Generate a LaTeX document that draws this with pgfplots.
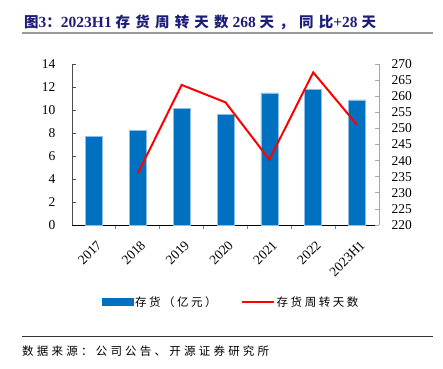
\documentclass[border=0pt]{standalone}
\usepackage{pgfplots}
\pgfplotsset{compat=1.18}
\usepackage{fontspec}
\setmainfont{Liberation Serif}
\newfontfamily\cjk{Noto Sans CJK SC}
\newfontfamily\cjkt[LetterSpace=36]{Noto Sans CJK SC}
\newfontfamily\cjksp[LetterSpace=22]{Noto Sans CJK SC}
\newfontfamily\cjkf[LetterSpace=28]{Noto Sans CJK SC}
\newcommand\tc[1]{{\fontsize{14.5}{15}\cjkt\bfseries #1}}
\definecolor{barblue}{HTML}{0070C0}
\definecolor{titleblue}{RGB}{30,30,120}
\begin{document}
\begin{tikzpicture}[x=1pt,y=1pt]
\path[use as bounding box] (0,0) rectangle (443,368);
% title
\node[anchor=west, inner sep=0pt, text=titleblue, font=\bfseries\fontsize{15.5}{16}\selectfont] at (24,345.5)
 {\tc{图}3\tc{：}2023H1 \tc{存货周转天数} 268 \tc{天，同比}+28 \tc{天}};
\draw[gray!80, line width=2pt] (22,335) -- (433,335);
% footer
\draw[black!80, line width=0.8pt] (22,32) -- (433,32);
\node[anchor=west, inner sep=0pt, font=\fontsize{11.5}{12}\selectfont] at (22,17) {\cjkf 数据来源：公司公告、开源证券研究所};
\begin{axis}[at={(72pt,143pt)}, anchor=south west, scale only axis, width=307pt, height=161pt,
  xmin=-0.5, xmax=6.5, ymin=0, ymax=14, ytick={0,2,...,14},
  axis y line*=left, axis x line*=bottom,
  axis line style={-},
  x axis line style={black, line width=0.8pt},
  y axis line style={black!70, line width=0.8pt},
  xtick={0,...,6}, xticklabels={2017,2018,2019,2020,2021,2022,2023H1},
  major x tick style={draw=none},
  minor xtick={0.5,1.5,...,5.5},
  minor x tick style={gray, line width=0.8pt},
  minor tick length=4pt,
  major tick length=4pt,
  y tick style={black!70, line width=0.8pt},
  tick align=inside,
  tick label style={font=\fontsize{13.5}{13.5}\selectfont},
  /pgf/number format/assume math mode=true,
  xticklabel style={rotate=45, anchor=north east, inner sep=1pt, xshift=-5pt, yshift=-8pt},
  yticklabel style={xshift=-13pt},
  ybar, bar width=17pt,
  clip=false,
]
\addplot[fill=barblue, draw=barblue!45, line width=0.5pt] coordinates {(0,7.68)(1,8.2)(2,10.15)(3,9.65)(4,11.5)(5,11.8)(6,10.87)};
\end{axis}
\begin{axis}[at={(72pt,143pt)}, anchor=south west, scale only axis, width=307pt, height=161pt,
  xmin=-0.5, xmax=6.5, ymin=220, ymax=270, ytick={220,225,...,270},
  axis y line*=right, axis x line=none,
  axis line style={-},
  y axis line style={gray!70, line width=0.8pt},
  y tick style={gray!70, line width=0.8pt},
  major tick length=4pt,
  tick align=inside,
  tick label style={font=\fontsize{13.5}{13.5}\selectfont},
  /pgf/number format/assume math mode=true,
  yticklabel style={xshift=9pt},
  legend columns=2,
  legend style={at={(0.518,-0.478)}, anchor=center, draw=none, fill=none,
    font=\fontsize{11.5}{12}\selectfont\cjksp,
    /tikz/every even column/.append style={column sep=22pt},
    nodes={inner sep=2pt}},
  clip=false,
]
\addlegendimage{legend image code/.code={\fill[barblue] (0pt,-3.5pt) rectangle (31pt,3.5pt);}}
\addlegendentry{存货（亿元）}
\addplot[red, line width=2pt, legend image code/.code={\draw[red,line width=2pt] (0pt,0pt) -- (32pt,0pt);}]
  coordinates {(1,236.0)(2,263.5)(3,258.1)(4,240.3)(5,267.4)(6,251.1)};
\addlegendentry{存货周转天数}
\end{axis}
\end{tikzpicture}
\end{document}
